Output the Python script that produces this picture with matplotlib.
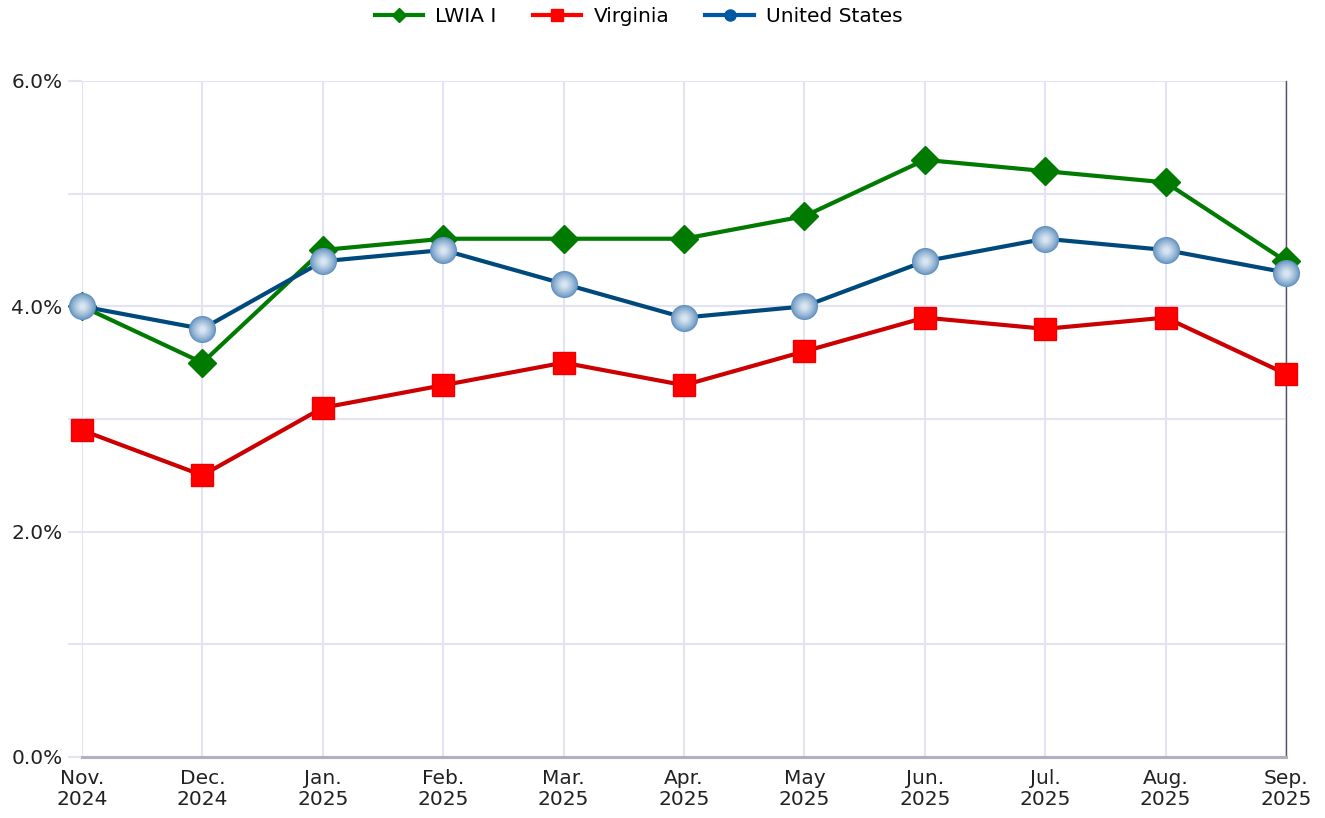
import numpy as np
import matplotlib
matplotlib.use("Agg")
from matplotlib import pyplot as plt
from matplotlib.lines import Line2D
from matplotlib.colors import to_rgb

months = ["Nov.\n2024", "Dec.\n2024", "Jan.\n2025", "Feb.\n2025", "Mar.\n2025", "Apr.\n2025",
          "May\n2025", "Jun.\n2025", "Jul.\n2025", "Aug.\n2025", "Sep.\n2025"]
lwia = [4.0, 3.5, 4.5, 4.6, 4.6, 4.6, 4.8, 5.3, 5.2, 5.1, 4.4]
virginia = [2.9, 2.5, 3.1, 3.3, 3.5, 3.3, 3.6, 3.9, 3.8, 3.9, 3.4]
us = [4.0, 3.8, 4.4, 4.5, 4.2, 3.9, 4.0, 4.4, 4.6, 4.5, 4.3]

plt.rcParams['font.family'] = ['DejaVu Sans']
fig = plt.figure(figsize=(13.25, 8.18), dpi=100)
ax = fig.add_axes([82/1325, 1-757/818, (1286-82)/1325, (757-81)/818])

x = np.arange(len(months))
grid_c = "#e3e3f3"

ax.set_xlim(0, len(months)-1)
ax.set_ylim(0, 6)
ax.set_yticks([0, 2, 4, 6])
ax.set_yticklabels(["%.1f%%" % v for v in [0, 2, 4, 6]])
ax.set_yticks([1, 3, 5], minor=True)
ax.set_xticks(x)
ax.set_xticklabels(months)
ax.grid(True, which='both', color=grid_c, linewidth=1.5)
ax.set_axisbelow(True)
ax.tick_params(axis='y', which='both', length=10, color=grid_c, width=1.5,
               labelsize=14.5, pad=4, labelcolor="#222222")
ax.tick_params(axis='x', length=0, labelsize=14.5, pad=9, labelcolor="#222222")
for t in ax.get_xticklabels():
    t.set_linespacing(1.1)

for s in ["top", "left"]:
    ax.spines[s].set_visible(False)
ax.spines["bottom"].set_color("#b0b0c0")
ax.spines["bottom"].set_linewidth(2.2)
ax.spines["right"].set_color("#555566")
ax.spines["right"].set_linewidth(1)

ax.plot(x, virginia, color="#cc0000", linewidth=3, marker='s', markersize=16,
        markerfacecolor="#ff0000", markeredgecolor="#ee0000", clip_on=False, zorder=3)
ax.plot(x, lwia, color="#007a00", linewidth=3, marker='D', markersize=14,
        markerfacecolor="#007a00", markeredgecolor="#007a00", clip_on=False, zorder=4)
ax.plot(x, us, color="#00497c", linewidth=3, clip_on=False, zorder=5)

# shaded sphere markers for United States
c0 = np.array(to_rgb("#6392c0"))
c1 = np.array(to_rgb("#d8e5f1"))
sizes = np.linspace(19.5, 4, 10)
for i, sz in enumerate(sizes):
    f = (i / (len(sizes) - 1)) ** 0.8
    col = c0 * (1 - f) + c1 * f
    ax.plot(x, us, linestyle='none', marker='o', markersize=sz,
            markerfacecolor=col, markeredgewidth=0, clip_on=False, zorder=6 + i * 0.01)

handles = [
    Line2D([], [], color="#008000", linewidth=3, marker='D', markersize=7),
    Line2D([], [], color="#ff0000", linewidth=3, marker='s', markersize=9),
    Line2D([], [], color="#0059a0", linewidth=3, marker='o', markersize=8),
]
fig.legend(handles, ["LWIA I", "Virginia", "United States"], loc='upper center',
           bbox_to_anchor=(0.482, 1.013), ncol=3, frameon=False, fontsize=14.5,
           handlelength=2.4, columnspacing=1.8, handletextpad=0.6)

fig.savefig("out.png", dpi=100)
